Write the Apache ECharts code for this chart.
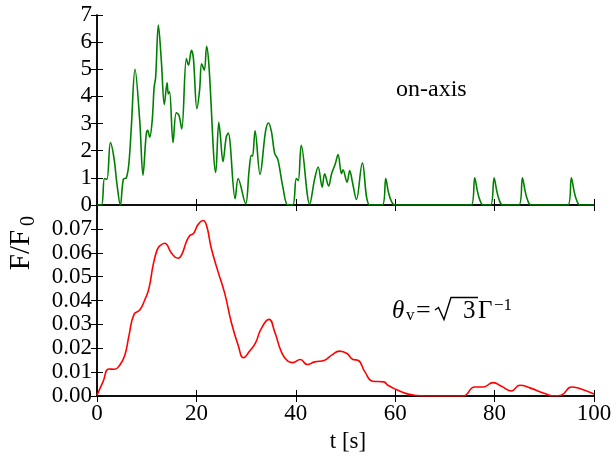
<!DOCTYPE html>
<html>
<head>
<meta charset="utf-8">
<script src="https://cdn.jsdelivr.net/npm/echarts@6/dist/echarts.min.js"></script>
<style>html,body{margin:0;padding:0;background:#fff;}#c{width:616px;height:460px;}</style>
</head>
<body>
<div id="c"></div>
<script>
// ---- data ----
const onAxisT = [0,0.9,1.5,2.0,2.7,3.4,4.0,4.7,5.3,5.9,6.4,6.9,7.65,8.6,9.25,9.9,10.2,10.6,11.1,11.5,11.8,12.35,12.95,13.55,14.1,14.35,14.6,15.3,15.95,16.5,17.05,17.98,18.4,19.0,19.4,20.1,20.65,21.05,21.6,22.05,22.5,23.9,24.5,24.8,25.35,26.0,26.4,27.8,28.4,29.9,30.6,31.05,31.3,31.8,32.8,33.9,34.5,35.1,35.75,36.4,37.4,38.4,39.4,40.1,40.5,41.1,42.8,43.8,44.5,45.3,45.8,46.6,47.2,47.95,48.5,49.2,49.5,50.3,50.85,51.4,52.2,53.4,54.9,57.4,58.1,58.6,59.2,59.9,75.3,76.0,76.5,77.0,77.7,79.2,79.9,80.4,80.9,81.6,84.9,85.6,86.1,86.6,87.3,94.75,95.45,95.95,96.45,97.15,100];
const onAxisF = [0,0,0.97,0.95,2.3,1.75,0.8,0,0.95,1.0,1.5,2.85,5.0,3.1,1.1,2.6,2.75,2.5,3.1,4.35,4.7,6.63,5.3,3.7,4.5,4.1,4.17,2.3,3.4,3.3,2.8,5.4,5.15,5.7,5.4,3.55,4.25,5.2,4.97,5.85,5.2,1.2,3.05,2.6,1.6,2.5,2.65,0.23,0.97,0.05,1.27,1.83,1.8,2.73,1.13,2.7,3.02,2.7,1.9,1.67,0.66,0,0,0.97,0.9,2.2,0.03,0.97,1.4,0.66,1.15,0.7,1.15,1.52,1.86,1.15,1.3,0.84,1.27,0.84,0.2,1.55,0,0,0.97,0.5,0.15,0,0,1.0,0.55,0.2,0,0,1.0,0.55,0.2,0,0,1.0,0.55,0.2,0,0,1.0,0.55,0.2,0,0];
const offAxisT = [0,1.2,2.4,3.5,4.6,5.6,6.45,7.45,8.6,9.6,10.45,11.3,12.1,12.7,13.6,15.0,16.3,17.0,18.0,18.65,19.45,20.3,21.3,22.0,23.0,24.35,25.7,27.0,28.4,29.5,30.6,31.9,33.0,34.6,35.75,37.1,38.4,39.45,40.9,42.3,43.8,45.8,47.2,48.8,50.3,51.5,52.5,53.9,55.5,57.7,58.55,60.2,62.25,64.3,66,73.6,76.0,77.7,79.7,81.4,83.4,85.05,87.1,90.1,92.1,93.4,95.45,97.1,100];
const offAxisF = [0.0003,0.0059,0.0113,0.0112,0.013,0.0171,0.0255,0.0342,0.036,0.0402,0.0451,0.0549,0.0612,0.063,0.064,0.0598,0.0577,0.059,0.0647,0.0671,0.0682,0.0717,0.0735,0.0717,0.0619,0.0521,0.043,0.0311,0.0213,0.016,0.0185,0.0223,0.028,0.0321,0.0269,0.0185,0.0146,0.014,0.0153,0.0132,0.0143,0.015,0.0171,0.0188,0.0178,0.0153,0.015,0.0101,0.0062,0.0059,0.0045,0.0027,0.001,0.0002,0,0,0.0038,0.0038,0.0056,0.0041,0.0021,0.0045,0.0034,0.001,0,0.0003,0.0038,0.0031,0.0008];
const xRange = [0, 100], xStep = 20;
const topRange = [0, 7], topStep = 1;
const botRange = [0, 0.08], botStep = 0.01;

const FONT = "'Liberation Serif','DejaVu Serif',serif";
const zip = (a, b) => a.map((v, i) => [v, b[i]]);

const chart = echarts.init(document.getElementById('c'), null, {renderer: 'canvas'});
const axisLine = {show: true, lineStyle: {color: '#000', width: 1.5}};
const tick = {show: true, inside: true, length: 6, lineStyle: {color: '#000', width: 1}};
function xAx(grid, pos, labels) {
  return {type: 'value', gridIndex: grid, position: pos, min: xRange[0], max: xRange[1], interval: xStep,
    axisLine, axisTick: tick, splitLine: {show: false},
    axisLabel: {show: labels, color: '#000', fontFamily: FONT, fontSize: 23, margin: 6}};
}
function yAx(grid, pos, r, step, labels, fmt) {
  return {type: 'value', gridIndex: grid, position: pos, min: r[0], max: r[1], interval: step,
    axisLine, axisTick: tick, splitLine: {show: false},
    axisLabel: {show: labels, color: '#000', fontFamily: FONT, fontSize: 23, margin: 5, formatter: fmt,
      showMaxLabel: grid === 0}};
}
const option = {
  animation: false,
  backgroundColor: '#fff',
  grid: [
    {left: 97, right: 22, top: 15, height: 190},
    {left: 97, right: 22, top: 205, height: 191}
  ],
  xAxis: [xAx(0, 'bottom', false), xAx(0, 'top', false), xAx(1, 'bottom', true), xAx(1, 'top', false)],
  yAxis: [
    yAx(0, 'left', topRange, topStep, true, v => String(v)),
    yAx(0, 'right', topRange, topStep, false),
    yAx(1, 'left', botRange, botStep, true, v => v.toFixed(2)),
    yAx(1, 'right', botRange, botStep, false)
  ],
  series: [
    {type: 'line', xAxisIndex: 0, yAxisIndex: 0, data: zip(onAxisT, onAxisF), showSymbol: false,
      smooth: 0.35, lineStyle: {color: '#008000', width: 1.6}, itemStyle: {color: '#008000'}},
    {type: 'line', xAxisIndex: 2, yAxisIndex: 2, data: zip(offAxisT, offAxisF), showSymbol: false,
      smooth: 0.5, lineStyle: {color: '#ff0000', width: 1.6}, itemStyle: {color: '#ff0000'}}
  ],
  graphic: [
    {type: 'text', x: 396, y: 90, style: {text: 'on-axis', font: "24px " + FONT, fill: '#000', verticalAlign: 'middle'}},
    {type: 'text', x: 348, y: 442, style: {text: 't [s]', font: "23px " + FONT, fill: '#000', align: 'center', verticalAlign: 'middle'}},
    {type: 'text', x: 21, y: 250, rotation: Math.PI / 2, style: {text: 'F/F', font: "29px " + FONT, fill: '#000', align: 'center', verticalAlign: 'middle'}},
    {type: 'text', x: 29, y: 221, rotation: Math.PI / 2, style: {text: '0', font: "20px " + FONT, fill: '#000', align: 'center', verticalAlign: 'middle'}},
    // theta_v = sqrt(3) Gamma^-1
    {type: 'text', x: 392, y: 311, style: {text: 'θ', font: "italic 25px " + FONT, fill: '#000', verticalAlign: 'middle'}},
    {type: 'text', x: 406, y: 316, style: {text: 'v', font: "17px " + FONT, fill: '#000', verticalAlign: 'middle'}},
    {type: 'text', x: 416, y: 311, style: {text: '=', font: "26px " + FONT, fill: '#000', verticalAlign: 'middle'}},
    {type: 'polyline', shape: {points: [[435, 310], [438.5, 307.5], [444, 319.5], [451, 297.5], [478, 297.5]]}, style: {stroke: '#000', lineWidth: 1.4, fill: null}},
    {type: 'text', x: 463, y: 311, style: {text: '3', font: "25px " + FONT, fill: '#000', verticalAlign: 'middle'}},
    {type: 'text', x: 478, y: 311, style: {text: 'Γ', font: "25px " + FONT, fill: '#000', verticalAlign: 'middle'}},
    {type: 'text', x: 494, y: 306, style: {text: '−1', font: "17px " + FONT, fill: '#000', verticalAlign: 'middle'}}
  ]
};
chart.setOption(option);
</script>
</body>
</html>
